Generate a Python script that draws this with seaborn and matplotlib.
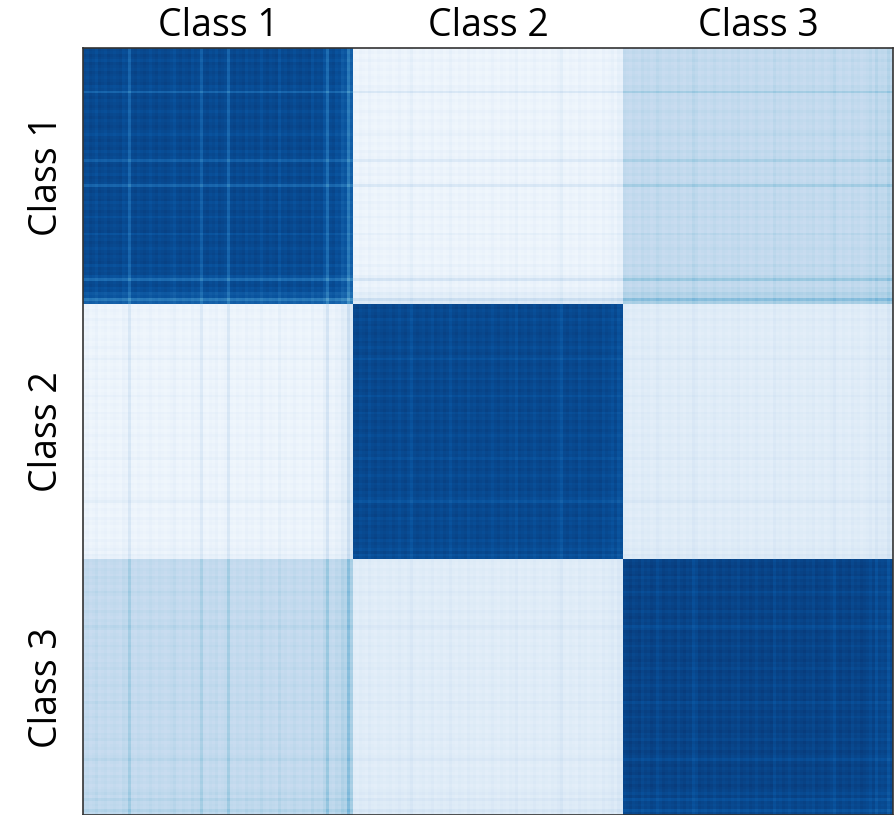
import numpy as np
import pandas as pd
import matplotlib
matplotlib.use("Agg")
import matplotlib.pyplot as plt
import seaborn as sns

classes = ["Class 1", "Class 2", "Class 3"]

# mean similarity between classes (block values)
block_mean = [
    [0.93, 0.04, 0.24],
    [0.04, 0.93, 0.10],
    [0.24, 0.10, 0.95],
]

# per-sample deviation (outlier strength) read from stripes, 90 samples per class
class1_dev = [0.01, 0.02, 0.00, 0.01, 0.03, 0.00, 0.01, 0.02, 0.00, 0.01,
              0.02, 0.01, 0.00, 0.03, 0.02, 0.12, 0.01, 0.00, 0.02, 0.01,
              0.00, 0.01, 0.03, 0.01, 0.00, 0.02, 0.01, 0.00, 0.01, 0.02,
              0.04, 0.01, 0.00, 0.02, 0.01, 0.00, 0.03, 0.01, 0.02, 0.10,
              0.01, 0.00, 0.02, 0.01, 0.03, 0.00, 0.01, 0.02, 0.12, 0.01,
              0.00, 0.02, 0.01, 0.00, 0.03, 0.01, 0.02, 0.00, 0.01, 0.04,
              0.01, 0.00, 0.02, 0.01, 0.00, 0.05, 0.01, 0.02, 0.00, 0.01,
              0.03, 0.01, 0.00, 0.02, 0.01, 0.00, 0.04, 0.01, 0.02, 0.01,
              0.05, 0.15, 0.02, 0.01, 0.04, 0.03, 0.08, 0.06, 0.20, 0.10]
class2_dev = [0.01, 0.00, 0.02, 0.01, 0.00, 0.03, 0.01, 0.00, 0.02, 0.01,
              0.00, 0.01, 0.02, 0.00, 0.01, 0.03, 0.01, 0.00, 0.02, 0.05,
              0.01, 0.00, 0.01, 0.02, 0.00, 0.01, 0.03, 0.00, 0.01, 0.02,
              0.00, 0.01, 0.04, 0.01, 0.00, 0.02, 0.01, 0.00, 0.03, 0.01,
              0.02, 0.00, 0.01, 0.02, 0.00, 0.01, 0.03, 0.01, 0.00, 0.02,
              0.01, 0.00, 0.02, 0.01, 0.04, 0.00, 0.01, 0.02, 0.00, 0.01,
              0.03, 0.01, 0.00, 0.02, 0.01, 0.00, 0.02, 0.01, 0.03, 0.06,
              0.01, 0.00, 0.02, 0.01, 0.00, 0.03, 0.01, 0.02, 0.00, 0.01,
              0.02, 0.01, 0.00, 0.03, 0.01, 0.02, 0.04, 0.01, 0.05, 0.03]
class3_dev = [0.02, 0.01, 0.00, 0.02, 0.01, 0.00, 0.03, 0.01, 0.02, 0.00,
              0.01, 0.04, 0.02, 0.00, 0.01, 0.02, 0.01, 0.00, 0.03, 0.01,
              0.00, 0.02, 0.01, 0.05, 0.03, 0.00, 0.01, 0.02, 0.00, 0.01,
              0.03, 0.01, 0.00, 0.02, 0.01, 0.00, 0.02, 0.01, 0.03, 0.00,
              0.01, 0.02, 0.00, 0.01, 0.03, 0.01, 0.00, 0.02, 0.01, 0.00,
              0.04, 0.01, 0.02, 0.00, 0.01, 0.03, 0.01, 0.00, 0.02, 0.01,
              0.00, 0.02, 0.01, 0.03, 0.00, 0.01, 0.02, 0.00, 0.01, 0.02,
              0.05, 0.01, 0.00, 0.02, 0.01, 0.00, 0.03, 0.01, 0.02, 0.00,
              0.01, 0.02, 0.04, 0.01, 0.06, 0.02, 0.03, 0.02, 0.07, 0.03]

devs = [np.array(class1_dev), np.array(class2_dev), np.array(class3_dev)]
n = len(class1_dev)

rows = []
for ci in range(3):
    row_blocks = []
    for cj in range(3):
        dd = devs[ci][:, None] + devs[cj][None, :]
        if ci == cj:
            blk = block_mean[ci][cj] - dd
        else:
            blk = block_mean[ci][cj] + 0.9 * dd
        row_blocks.append(blk)
    rows.append(np.hstack(row_blocks))
S = np.clip(np.vstack(rows), 0, 1)
df = pd.DataFrame(S)

fig = plt.figure(figsize=(8.95, 8.15), dpi=100)
ax = fig.add_axes([83 / 895, 0.0, 810 / 895, 767 / 815])
sns.heatmap(df, ax=ax, cmap="Blues", vmin=0, vmax=1, cbar=False,
            xticklabels=False, yticklabels=False, rasterized=True)

centers = [n * (k + 0.5) for k in range(3)]
ax.set_xticks(centers)
ax.set_yticks(centers)
ax.xaxis.tick_top()
font = dict(family=["Open Sans", "DejaVu Sans"], size=27)
ax.set_xticklabels(classes, fontdict=font)
ax.set_yticklabels(classes, fontdict=font, rotation=90, va="center")
ax.tick_params(axis="both", length=0)
ax.tick_params(axis="x", pad=2)
ax.tick_params(axis="y", pad=12)
ax.set_xlabel("")
ax.set_ylabel("")
for s in ax.spines.values():
    s.set_visible(True)
    s.set_color("#333333")
    s.set_linewidth(1.2)

fig.savefig("out.png", dpi=100)
